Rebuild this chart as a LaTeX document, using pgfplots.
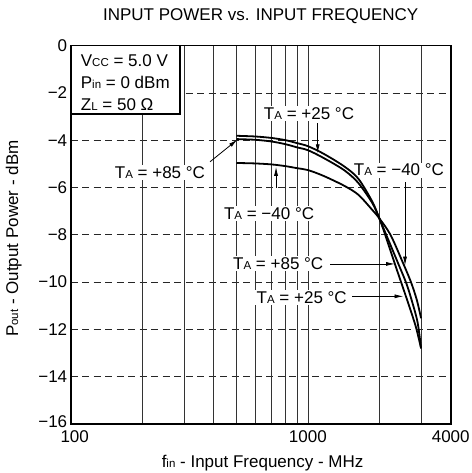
\documentclass[border=0pt]{standalone}
\usepackage{fontspec}
\setmainfont{Liberation Sans}
\usepackage{pgfplots}
\pgfplotsset{compat=1.18}
\usetikzlibrary{arrows.meta}
\newcommand{\sm}[1]{{\fontsize{11.5}{12}\selectfont #1}}
\newcommand{\ta}{T\sm{A}}
\newcommand{\fs}{\fontsize{17}{20}\selectfont}
\begin{document}
\begin{tikzpicture}
\begin{axis}[
  xmode=log,
  scale only axis, width=380pt, height=378.3pt,
  xmin=100, xmax=4000, ymin=-16, ymax=0,
  xtick={100,1000,4000},
  xticklabels={\hspace*{8pt}100,1000,4000},
  minor xtick={},
  ytick={-16,-14,...,0},
  yticklabels={\raisebox{5pt}{−16},−14,−12,−10,−8,−6,−4,−2,0},
  tick style={draw=none},
  major tick length=0pt, minor tick length=0pt,
  tick label style={font=\fs},
  xticklabel style={yshift=-3pt},
  ymajorgrids=true,
  y grid style={black!85, line width=0.8pt, dash pattern=on 7pt off 4.5pt},
  extra x ticks={200,300,400,500,600,700,800,900,1000,2000,3000},
  extra x tick style={grid=major, xticklabel={}},
  x grid style={black!80, line width=0.7pt, solid},
  axis line style={line width=1.6pt},
  clip=false,
]
% condition box
\draw[fill=white, line width=1.1pt] (axis cs:100,0) rectangle (axis cs:288.9,-2.89);
\node[font=\fs, anchor=base west, inner sep=0pt] at (axis cs:110.2,-0.859) {V\sm{CC} = 5.0 V};
\node[font=\fs, anchor=base west, inner sep=0pt] at (axis cs:110.2,-1.80) {P\sm{in} = 0 dBm};
\node[font=\fs, anchor=base west, inner sep=0pt] at (axis cs:110.2,-2.72) {Z\sm{L} = 50 Ω};
% annotations
\tikzset{ann/.style={font=\fs, fill=white, inner sep=1.5pt},
         arr/.style={line width=0.8pt, -{Latex[length=9pt,width=4pt]}}}
\draw[arr] (axis cs:386.7,-4.91) -- (axis cs:505,-3.97);
\node[ann] at (axis cs:237.9,-5.38) {\ta{} = +85 °C};
\draw[arr] (axis cs:1100,-3.27) -- (axis cs:1100,-4.55);
\node[ann] at (axis cs:1011,-2.86) {\ta{} = +25 °C};
\draw[arr] (axis cs:734,-6.02) -- (axis cs:734,-5.12);
\node[ann] at (axis cs:686,-7.09) {\ta{} = −40 °C};
\draw[arr] (axis cs:2567,-5.78) -- (axis cs:2567,-9.3);
\node[ann] at (axis cs:2420,-5.26) {\ta{} = −40 °C};
\draw[arr] (axis cs:1240,-9.23) -- (axis cs:2330,-9.23);
\node[ann] at (axis cs:750,-9.23) {\ta{} = +85 °C};
\draw[arr] (axis cs:1535,-10.6) -- (axis cs:2530,-10.6);
\node[ann] at (axis cs:942,-10.65) {\ta{} = +25 °C};
% curves
\addplot[black, line width=1.8pt, smooth] coordinates {
 (500,-3.81) (600,-3.84) (700,-3.90) (800,-3.99) (900,-4.12) (1000,-4.25)
 (1160,-4.56) (1420,-5.1) (1630,-5.62) (1870,-6.6) (2000,-7.3)
 (2160,-8.1) (2400,-9.2) (2600,-10.05) (2745,-10.8) (2900,-11.7) (3000,-12.8)};
\addplot[black, line width=1.8pt, smooth] coordinates {
 (500,-3.95) (600,-3.98) (700,-4.05) (800,-4.16) (900,-4.30) (1000,-4.42)
 (1160,-4.74) (1420,-5.26) (1630,-5.8) (1870,-6.66) (2000,-7.3)
 (2110,-7.95) (2330,-9.25) (2520,-10.25) (2680,-11.05) (2850,-11.88) (3000,-12.8)};
\addplot[black, line width=1.8pt, smooth] coordinates {
 (500,-4.96) (600,-4.98) (700,-5.02) (800,-5.09) (900,-5.18) (1000,-5.26)
 (1160,-5.5) (1420,-5.92) (1630,-6.3) (1870,-6.95) (2000,-7.3)
 (2230,-8.0) (2520,-9.2) (2720,-10.0) (2880,-10.76) (3000,-11.53)};
% frame redraw
\draw[line width=1.6pt] (rel axis cs:0,0) rectangle (rel axis cs:1,1);
% title and labels
\node[font=\fs, anchor=base] at ([yshift=24.7pt]rel axis cs:0.5,1) {INPUT POWER vs. INPUT FREQUENCY};
\node[font=\fs, anchor=base] at ([yshift=-43pt]rel axis cs:0.505,0) {f\sm{in} - Input Frequency - MHz};
\node[font=\fs, anchor=base, rotate=90] at ([xshift=-52.7pt]rel axis cs:0,0.49) {P\sm{out} - Output Power - dBm};
\coordinate (LL) at (rel axis cs:0,0);
\coordinate (UR) at (rel axis cs:1,1);
\end{axis}
\pgfresetboundingbox
\path[use as bounding box] ([shift={(-70.7pt,-49pt)}]LL) rectangle ([shift={(20.3pt,45.7pt)}]UR);
\end{tikzpicture}
\end{document}
